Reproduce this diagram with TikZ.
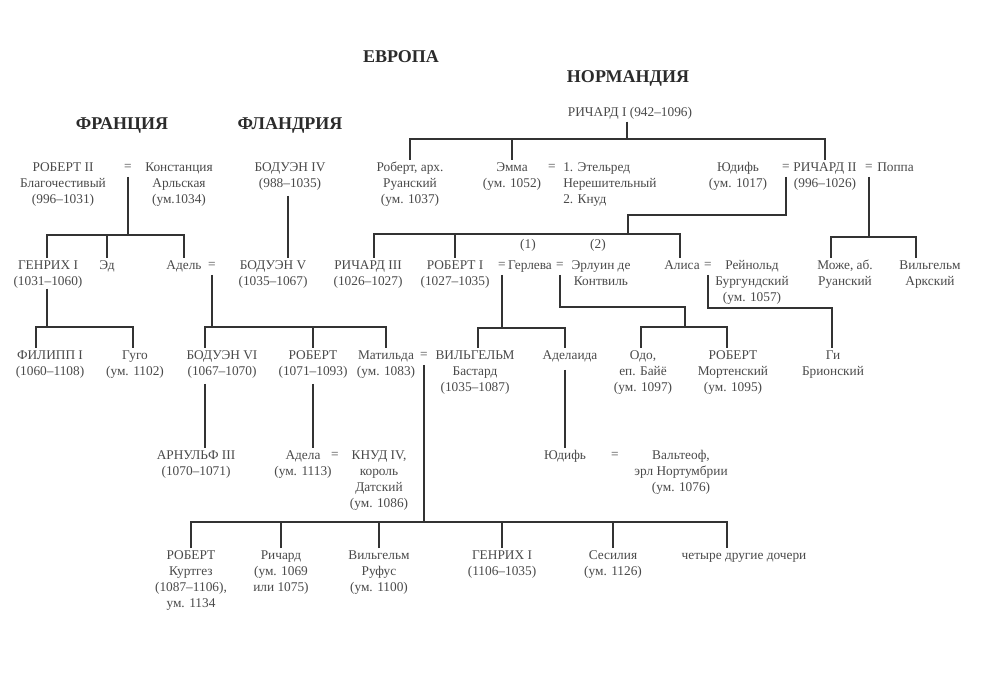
\documentclass[tikz,border=0pt]{standalone}
\usepackage{fontspec}
\setmainfont{Liberation Serif}
\usetikzlibrary{calc}
\definecolor{txt}{HTML}{4A4A4A}
\definecolor{hdc}{HTML}{2B2B2B}
\definecolor{lnc}{HTML}{333333}
\newcommand\pfont{\fontsize{10}{12}\selectfont}
\newcommand\hfont{\fontsize{13.5}{15}\selectfont\bfseries}
\begin{document}
\begin{tikzpicture}[x=0.75pt,y=-0.75pt,
  pn/.style={inner sep=0pt, anchor=north, align=center, font=\pfont, text=txt},
  pl/.style={pn, anchor=north west, align=left},
  eq/.style={inner xsep=0pt, inner ysep=5pt, font=\pfont, text=txt},
  lab/.style={inner sep=0pt, font=\pfont, text=txt},
  hd/.style={inner sep=0pt, font=\hfont, text=hdc},
  ln/.style={draw=lnc, line width=1.5pt},
  fs/.style={shorten <=4pt}]
\fill[white] (0,0) rectangle (1000,677);
\useasboundingbox (0,0) rectangle (1000,677);
% headings
\node[hd] (europe) at (401,57) {ЕВРОПА};
\node[hd] (normandy) at (628,78) {НОРМАНДИЯ};
\node[hd] (france) at (122,125) {ФРАНЦИЯ};
\node[hd] (flanders) at (290,125) {ФЛАНДРИЯ};
% Normandy
\node[pn] (r1) at (630,105) {\strut РИЧАРД I (942–1096)};
\node[pn] (robA) at (410,160) {\strut Роберт, арх.\\Руанский\\(ум. 1037)};
\node[pn] (emma) at (512,160) {\strut Эмма\\(ум. 1052)};
\node[eq] (eqE) at (552,167) {=};
\node[pl] (eth) at (563,160) {\strut 1. Этельред\\Нерешительный\\2. Кнуд};
\node[pn] (jud) at (738,160) {\strut Юдифь\\(ум. 1017)};
\node[eq] (eqJ) at (786,167) {=};
\node[pn] (r2) at (825,160) {\strut РИЧАРД II\\(996–1026)};
\node[eq] (eqP) at (869,167) {=};
\node[pl] (poppa) at (877,160) {\strut Поппа};
\node[pn] (r3) at (368,258) {\strut РИЧАРД III\\(1026–1027)};
\node[pn] (rob1) at (455,258) {\strut РОБЕРТ I\\(1027–1035)};
\node[eq] (eqG1) at (502,265) {=};
\node[pn] (herl) at (530,258) {\strut Герлева};
\node[eq] (eqG2) at (560,265) {=};
\node[pn] (erl) at (601,258) {\strut Эрлуин де\\Контвиль};
\node[lab] (n1) at (528,245) {(1)};
\node[lab] (n2) at (598,245) {(2)};
\node[pn] (alisa) at (682,258) {\strut Алиса};
\node[eq] (eqAl) at (708,265) {=};
\node[pn] (rein) at (752,258) {\strut Рейнольд\\Бургундский\\(ум. 1057)};
\node[pn] (mauger) at (845,258) {\strut Може, аб.\\Руанский};
\node[pn] (wilA) at (930,258) {\strut Вильгельм\\Аркский};
\node[pn] (wilB) at (475,348) {\strut ВИЛЬГЕЛЬМ\\Бастард\\(1035–1087)};
\node[pn] (adelaida) at (570,348) {\strut Аделаида};
\node[pn] (odo) at (643,348) {\strut Одо,\\еп. Байё\\(ум. 1097)};
\node[pn] (robM) at (733,348) {\strut РОБЕРТ\\Мортенский\\(ум. 1095)};
\node[pn] (gui) at (833,348) {\strut Ги\\Брионский};
\node[pn] (judN) at (565,448) {\strut Юдифь};
\node[eq] (eqW) at (615,455) {=};
\node[pn] (walt) at (681,448) {\strut Вальтеоф,\\эрл Нортумбрии\\(ум. 1076)};
% France / Flanders
\node[pn] (rob2) at (63,160) {\strut РОБЕРТ II\\Благочестивый\\(996–1031)};
\node[eq] (eqR) at (128,167) {=};
\node[pn] (konst) at (179,160) {\strut Констанция\\Арльская\\(ум.1034)};
\node[pn] (bod4) at (290,160) {\strut БОДУЭН IV\\(988–1035)};
\node[pn] (henri1) at (48,258) {\strut ГЕНРИХ I\\(1031–1060)};
\node[pn] (ed) at (107,258) {\strut Эд};
\node[pn] (adel) at (184,258) {\strut Адель};
\node[eq] (eqA) at (212,265) {=};
\node[pn] (bod5) at (273,258) {\strut БОДУЭН V\\(1035–1067)};
\node[pn] (phil) at (50,348) {\strut ФИЛИПП I\\(1060–1108)};
\node[pn] (hugo) at (135,348) {\strut Гуго\\(ум. 1102)};
\node[pn] (bod6) at (222,348) {\strut БОДУЭН VI\\(1067–1070)};
\node[pn] (robF) at (313,348) {\strut РОБЕРТ\\(1071–1093)};
\node[pn] (mat) at (386,348) {\strut Матильда\\(ум. 1083)};
\node[eq] (eqM) at (424,355) {=};
\node[pn] (arn) at (196,448) {\strut АРНУЛЬФ III\\(1070–1071)};
\node[pn] (adela) at (303,448) {\strut Адела\\(ум. 1113)};
\node[eq] (eqK) at (335,455) {=};
\node[pn] (knud) at (379,448) {\strut КНУД IV,\\король\\Датский\\(ум. 1086)};
% children of William and Matilda
\node[pn] (robC) at (191,548) {\strut РОБЕРТ\\Куртгез\\(1087–1106),\\ум. 1134};
\node[pn] (richC) at (281,548) {\strut Ричард\\(ум. 1069\\или 1075)};
\node[pn] (wilR) at (379,548) {\strut Вильгельм\\Руфус\\(ум. 1100)};
\node[pn] (henC) at (502,548) {\strut ГЕНРИХ I\\(1106–1035)};
\node[pn] (ces) at (613,548) {\strut Сесилия\\(ум. 1126)};
\node[pn] (four) at (744,548) {\strut четыре другие дочери};
% ---------- connectors ----------
% Richard I
\coordinate (tb) at (627,139);
\draw[ln] (tb |- r1.south) -- (tb);
\draw[ln] (robA.north) |- (r2.north |- tb) -- (r2.north);
\draw[ln] (emma.north) -- (emma.north |- tb);
% Richard II = Judith
\coordinate (j1) at (628,215);
\coordinate (nb) at (628,234);
\coordinate (s3) at (374,234);
\coordinate (sAl) at (680,234);
\draw[ln] (eqJ.south) |- (j1) -- (nb);
\draw[ln] (s3 |- r3.north) -- (s3) -- (sAl) -- (sAl |- alisa.north);
\draw[ln] (rob1.north) -- (rob1.north |- nb);
% Richard II = Poppa
\coordinate (pb) at (869,237);
\coordinate (sMa) at (831,237);
\coordinate (sWa) at (916,237);
\draw[ln] (eqP.south) -- (eqP.south |- pb);
\draw[ln] (sMa |- mauger.north) -- (sMa) -- (sWa) -- (sWa |- wilA.north);
% Robert I = Herleva
\coordinate (hb) at (502,328);
\coordinate (sWB) at (478,328);
\coordinate (sAd) at (565,328);
\draw[ln] (eqG1.south) -- (eqG1.south |- hb);
\draw[ln] (sWB |- wilB.north) -- (sWB) -- (sAd) -- (sAd |- adelaida.north);
% Herleva = Herluin
\coordinate (e1) at (685,307);
\coordinate (eb) at (685,327);
\coordinate (sOd) at (641,327);
\coordinate (sRM) at (727,327);
\draw[ln] (eqG2.south) |- (e1) -- (eb);
\draw[ln] (sOd |- odo.north) -- (sOd) -- (sRM) -- (sRM |- robM.north);
% Alice = Renaud
\coordinate (a1) at (832,308);
\draw[ln] (eqAl.south) |- (a1) -- (a1 |- gui.north);
% Adelaide -> Judith
\draw[ln,fs] (sAd |- adelaida.south) -- (sAd |- judN.north);
% France
\coordinate (fb) at (128,235);
\coordinate (sH) at (47,235);
\coordinate (sAdl) at (184,235);
\draw[ln] (eqR.south) -- (eqR.south |- fb);
\draw[ln] (sH |- henri1.north) -- (sH) -- (sAdl) -- (sAdl |- adel.north);
\draw[ln] (ed.north) -- (ed.north |- fb);
% Flanders
\coordinate (b4) at (288,0);
\draw[ln,fs] (b4 |- bod4.south) -- (b4 |- bod5.north);
% Henri I children
\coordinate (hb2) at (47,327);
\coordinate (sPh) at (36,327);
\coordinate (sHu) at (133,327);
\draw[ln] (hb2 |- henri1.south) -- (hb2);
\draw[ln] (sPh |- phil.north) -- (sPh) -- (sHu) -- (sHu |- hugo.north);
% Adele children
\coordinate (ab) at (212,327);
\coordinate (sB6) at (205,327);
\coordinate (sMt) at (386,327);
\draw[ln] (eqA.south) -- (eqA.south |- ab);
\draw[ln] (sB6 |- bod6.north) -- (sB6) -- (sMt) -- (sMt |- mat.north);
\draw[ln] (robF.north) -- (robF.north |- ab);
\draw[ln,fs] (sB6 |- bod6.south) -- (sB6 |- arn.north);
\draw[ln,fs] (robF.south) -- (robF.south |- adela.north);
% William = Matilda children
\coordinate (cb) at (424,522);
\coordinate (sF) at (727,522);
\draw[ln] (eqM.south) -- (eqM.south |- cb);
\draw[ln] (robC.north) |- (sF) -- (sF |- four.north);
\draw[ln] (richC.north) -- (richC.north |- cb);
\draw[ln] (wilR.north) -- (wilR.north |- cb);
\draw[ln] (henC.north) -- (henC.north |- cb);
\draw[ln] (ces.north) -- (ces.north |- cb);
\end{tikzpicture}
\end{document}
